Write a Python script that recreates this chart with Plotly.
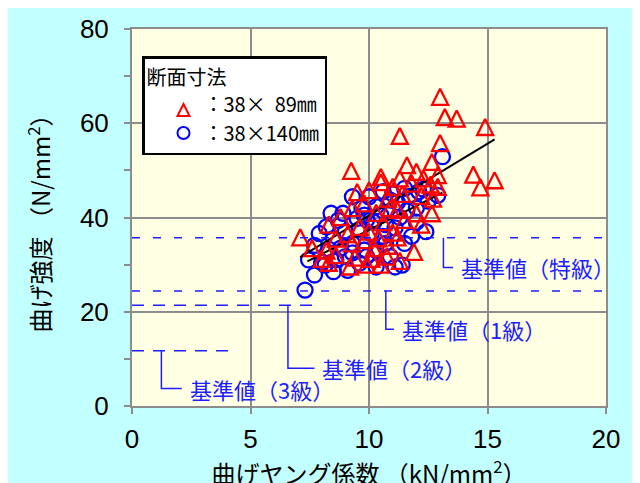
import plotly.graph_objects as go

# ---------------- data ----------------
# 38 x 89 mm specimens : (bending Young's modulus kN/mm2, bending strength N/mm2)
x_89 = [13.0, 13.2, 13.7, 14.9, 11.3, 13.0, 14.4, 14.7, 15.3, 9.25,
        10.5, 11.3, 11.6, 12.0, 12.65, 12.9, 10.5, 11.0, 11.8, 12.3,
        12.6, 12.9, 9.5, 10.0, 11.4, 12.2, 12.7, 10.8,
        8.8, 9.3, 9.8, 10.3, 10.9, 11.2, 12.0, 12.65, 11.5, 12.2,
        10.6, 9.6, 10.0, 11.0, 10.4, 9.1, 8.3,
        7.1, 7.6, 8.2, 8.6, 9.28, 9.8, 10.2, 10.8, 11.2, 11.9,
        10.75, 10.1, 9.4, 8.6, 8.0, 9.9, 10.5, 11.3, 8.3, 9.2]
y_89 = [65.6, 61.3, 61.0, 59.2, 57.3, 55.8, 49.1, 46.4, 47.9, 49.9,
        48.6, 48.3, 51.1, 49.7, 51.8, 49.0, 47.5, 46.5, 47.2, 48.3,
        47.0, 46.5, 45.4, 45.8, 45.0, 44.6, 44.0, 44.0,
        40.1, 42.0, 43.0, 41.0, 42.0, 41.6, 40.9, 40.9, 39.5, 38.5,
        39.0, 38.0, 37.0, 36.8, 35.6, 36.5, 38.5,
        35.8, 33.5, 33.0, 35.5, 34.5, 35.2, 33.5, 34.0, 35.8, 32.7,
        31.7, 31.2, 31.5, 32.0, 31.2, 30.0, 30.0, 30.8, 30.4, 29.6]

# 38 x 140 mm specimens
x_140 = [13.1, 12.9, 12.1, 11.5, 11.0, 12.5, 10.9, 10.3, 10.0, 9.3,
         9.5, 8.9, 8.4, 8.7, 8.2, 7.9, 7.7, 7.45, 7.7, 7.3,
         8.15, 8.6, 9.8, 9.3, 9.8, 9.9, 9.6, 9.0, 10.1, 10.7,
         10.7, 11.1, 10.9, 11.1, 12.4, 11.4, 12.0, 11.6, 11.3, 10.5,
         9.6, 9.0, 8.5, 8.3, 8.8, 9.3, 10.3, 10.6, 11.5, 11.8,
         12.0, 11.2, 10.2, 9.9, 8.0, 8.5, 9.1, 10.3, 11.7, 12.3,
         10.6, 9.7]
y_140 = [52.9, 44.7, 45.5, 46.2, 45.0, 43.5, 43.7, 42.3, 44.4, 44.4,
         39.8, 40.9, 40.9, 39.4, 38.0, 36.6, 34.1, 31.0, 27.8, 24.6,
         29.9, 31.0, 40.5, 34.5, 33.1, 31.7, 30.3, 31.7, 36.5, 38.5,
         34.5, 37.8, 31.7, 29.5, 37.0, 29.9, 39.0, 41.5, 40.0, 40.5,
         37.5, 37.0, 35.5, 33.3, 33.5, 32.5, 33.0, 36.0, 34.5, 36.0,
         42.0, 43.2, 39.0, 39.5, 30.5, 28.5, 28.8, 29.5, 44.5, 46.0,
         45.5, 42.0]

# regression lines (end points)
fit_x_89 = [7.1, 15.3]
fit_y_89 = [31.6, 56.6]
fit_x_140 = [7.4, 13.1]
fit_y_140 = [30.7, 45.3]

# reference (standard) values
std_names = ["基準値（特級）", "基準値（1級）", "基準値（2級）", "基準値（3級）"]
std_values = [35.7, 24.4, 21.4, 11.7]
std_x_end = [20.0, 20.0, 7.8, 4.2]
std_dash = ["8px,13px", "8px,13px", "12px,9px", "12px,9px"]
# callout: bracket x, label y, label x
callout_x = [13.14, 10.71, 6.58, 1.24]
label_y = [29.4, 16.3, 8.0, 3.7]
label_x = [13.8, 11.3, 7.95, 2.35]

legend_names = ["：38×\u00a0\u00a089㎜", "：38×140㎜"]

# ---------------- figure ----------------
CYAN = "#C2FFFF"
PLOT_BG = "#FFFFE4"
GRID = "#8C8C8C"
BLUE = "#1E1EFF"
JP = "Noto Sans CJK JP"

fig = go.Figure()

tri_size = 16
# arrow-up has its apex at the data point; a hidden copy of the y axis shifted by
# half a marker keeps each triangle centred on its value
px_per_unit = 377.0 / 80.0
shift = (tri_size / 2.0) / px_per_unit

fig.add_trace(go.Scatter(
    x=x_89, y=y_89, mode="markers", name=legend_names[0], yaxis="y2",
    marker=dict(symbol="arrow-up-open", size=tri_size, color="#FF0000",
                line=dict(width=2.3, color="#FF0000")),
))
fig.add_trace(go.Scatter(
    x=x_140, y=y_140, mode="markers", name=legend_names[1],
    marker=dict(symbol="circle-open", size=15, color="#0000FF",
                line=dict(width=2.3, color="#0000FF")),
))
fig.add_trace(go.Scatter(x=fit_x_89, y=fit_y_89, mode="lines", showlegend=False,
                         line=dict(color="black", width=2)))
fig.add_trace(go.Scatter(x=fit_x_140, y=fit_y_140, mode="lines", showlegend=False,
                         line=dict(color="black", width=2)))

shapes = []
annotations = []
for name, v, xe, dash, cx, ly, lx in zip(std_names, std_values, std_x_end, std_dash,
                                         callout_x, label_y, label_x):
    shapes.append(dict(type="line", xref="x", yref="y", x0=0, x1=xe, y0=v, y1=v,
                       line=dict(color=BLUE, width=1.5, dash=dash), layer="above"))
    shapes.append(dict(type="path", xref="x", yref="y",
                       path=f"M{cx},{v} L{cx},{ly} L{lx - 0.25},{ly}",
                       line=dict(color=BLUE, width=1.5), layer="above"))
    annotations.append(dict(x=lx, y=ly, xref="x", yref="y", text=name, showarrow=False,
                            xanchor="left", yanchor="middle",
                            font=dict(family=JP, size=22, color=BLUE)))

axis_common = dict(showgrid=True, gridcolor=GRID, gridwidth=2, zeroline=False,
                   showline=True, linecolor=GRID, linewidth=2, mirror=True,
                   ticks="outside", ticklen=6, tickcolor=GRID, tickwidth=2,
                   automargin=False,
                   tickfont=dict(family="Liberation Sans", size=26, color="black"))

# the page places the figure 8 px from the top-left corner
fig.update_layout(
    width=640, height=483,
    margin=dict(l=124, r=42, t=21, b=85),
    paper_bgcolor=CYAN, plot_bgcolor=PLOT_BG,
    xaxis=dict(range=[0, 20], tickvals=[0, 5, 10, 15, 20], ticklabelstandoff=3,
               title=dict(text="曲げヤング係数 （kN/mm<sup>2</sup>）", standoff=2,
                          font=dict(family=JP, size=24, color="black")),
               **axis_common),
    yaxis=dict(range=[0, 80], tickvals=[0, 20, 40, 60, 80], ticklabelstandoff=10,
               minor=dict(tickvals=[10, 30, 50, 70], ticks="outside", ticklen=6,
                          tickcolor=GRID, tickwidth=2, showgrid=False),
               title=dict(text="曲げ強度 （N/mm<sup>2</sup>）", standoff=22,
                          font=dict(family=JP, size=24, color="black")),
               **axis_common),
    yaxis2=dict(range=[-shift, 80 - shift], overlaying="y", visible=False),
    showlegend=True,
    legend=dict(x=(142 - 132) / 474.0, y=(406 - 56) / 377.0, xanchor="left", yanchor="top",
                bgcolor="white", bordercolor="black", borderwidth=2.5,
                font=dict(family=JP, size=20, color="black"),
                title=dict(text="断面寸法", font=dict(family=JP, size=20, color="black")),
                itemsizing="constant", tracegroupgap=0, indentation=19),
    shapes=shapes, annotations=annotations,
)

fig.write_html("out.html")
